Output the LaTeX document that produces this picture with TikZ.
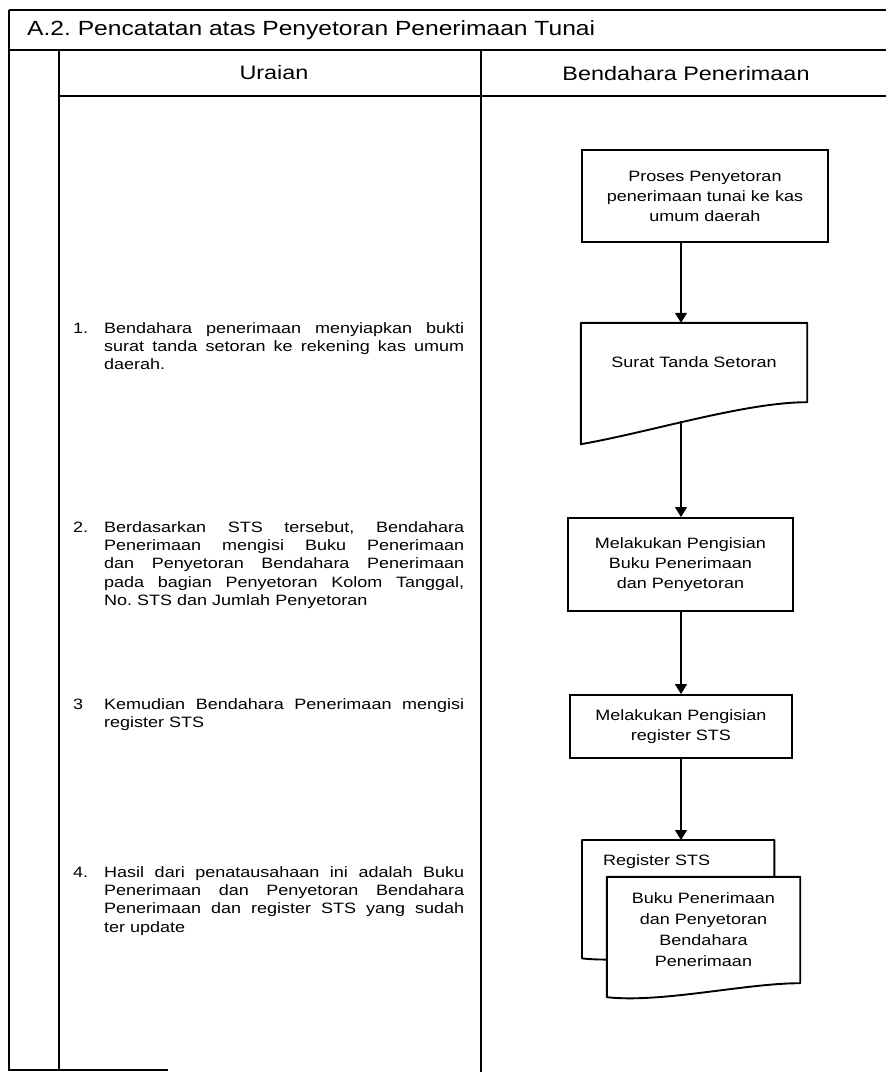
\documentclass[tikz,border=0pt]{standalone}
\usepackage{fontspec}
\setmainfont{Liberation Sans}[FakeStretch=1.2]
\usetikzlibrary{arrows.meta,calc,backgrounds}
\newcommand\txtfont{\fontsize{15}{18.2}\selectfont}
\newcommand\boxtxt{\fontsize{15}{20}\selectfont}
\frenchspacing
\tolerance=10000
\hyphenpenalty=10000
\begin{document}
\begin{tikzpicture}[x=1pt,y=-1pt,
  rule/.style={line width=1.3pt},
  procbox/.style={draw, line width=1.9pt, fill=white, inner sep=0pt, align=center, font=\boxtxt},
  docface/.style={draw, line width=1.9pt, fill=white, line join=round},
  flow/.style={line width=1.2pt, -{Triangle[width=12pt,length=10pt]}},
  para/.style={anchor=north west, inner sep=0pt, text width=360pt, align=justify, font=\txtfont},
  num/.style={anchor=north west, inner sep=0pt, font=\txtfont},
  headtxt/.style={inner sep=0pt, font=\fontsize{19.5}{23}\selectfont},
]
\useasboundingbox (0,0) rectangle (886,1072);

% table rules
\draw[rule] (9,10) -- (886,10);
\draw[rule] (9,10) -- (9,1070) -- (168,1070);
\draw[rule] (9,50) -- (886,50);
\draw[rule] (59,50) -- (59,1070);
\draw[rule] (481,50) -- (481,1072);
\draw[rule] (59,96) -- (886,96);

% headings
\node[anchor=west, inner sep=0pt, font=\fontsize{20.5}{24}\selectfont] (title) at (27,30)
  {A.2. Pencatatan atas Penyetoran Penerimaan Tunai};
\node[headtxt] (hU) at (274,73) {Uraian};
\node[headtxt] (hB) at (686,74) {Bendahara Penerimaan};

% description column
\node[num] (n1) at (73,320.6) {\strut 1.};
\node[para] (u1) at (104,320.6) {\strut Bendahara penerimaan menyiapkan bukti\linebreak
  surat tanda setoran ke rekening kas umum\linebreak daerah.};
\node[num] (n2) at (73,519.6) {\strut 2.};
\node[para] (u2) at (104,519.6) {\strut Berdasarkan STS tersebut, Bendahara\linebreak
  Penerimaan mengisi Buku Penerimaan\linebreak
  dan Penyetoran Bendahara Penerimaan\linebreak
  pada bagian Penyetoran Kolom Tanggal,\linebreak
  No. STS dan Jumlah Penyetoran};
\node[num] (n3) at (73,696.6) {\strut 3};
\node[para] (u3) at (104,696.6) {\strut Kemudian Bendahara Penerimaan mengisi\linebreak
  register STS};
\node[num] (n4) at (73,864.6) {\strut 4.};
\node[para] (u4) at (104,864.6) {\strut Hasil dari penatausahaan ini adalah Buku\linebreak
  Penerimaan dan Penyetoran Bendahara\linebreak
  Penerimaan dan register STS yang sudah\linebreak
  ter update};

% flowchart column
\coordinate (ax) at (681,0);
\node[procbox, minimum width=246pt, minimum height=92pt] (p1) at (705,196)
  {Proses Penyetoran\\penerimaan tunai ke kas\\umum daerah};
\node[inner sep=0pt, minimum width=226pt, minimum height=79pt, font=\boxtxt] (sts) at (694,362.5)
  {Surat Tanda Setoran};
\draw[docface, fill=none] (sts.north west) -- (sts.north east) -- (sts.south east)
  .. controls +(-62,0) and +(69,-12) .. ($(sts.south west)+(0,42)$) -- cycle;
\coordinate (stsb) at (681,421);
\node[procbox, minimum width=225pt, minimum height=93pt] (p3) at (680.5,564.5)
  {Melakukan Pengisian\\Buku Penerimaan\\dan Penyetoran};
\node[procbox, minimum width=222pt, minimum height=63pt] (p4) at (681,726.5)
  {Melakukan Pengisian\\register STS};

\node[inner sep=0pt, minimum width=192pt, minimum height=118pt, anchor=north west] (reg) at (582,840) {};
\node[anchor=west, inner sep=0pt, font=\boxtxt] (regtx) at (603,862) {Register STS};
\node[inner sep=0pt, minimum width=193pt, minimum height=106pt, align=center,
  font=\fontsize{15}{21}\selectfont] (buku) at (703.5,930)
  {Buku Penerimaan\\dan Penyetoran\\Bendahara\\Penerimaan};
\begin{pgfonlayer}{background}
  \draw[docface] (reg.north west) -- (reg.north east) -- ($(reg.north east)+(0,105)$)
    .. controls +(-55,0) and +(55,6) .. (reg.south west) -- cycle;
  \draw[docface] (buku.north west) -- (buku.north east) -- (buku.south east)
    .. controls +(-55,0) and +(55,6) .. ($(buku.south west)+(0,14)$) -- cycle;
\end{pgfonlayer}

\draw[flow] (p1.south -| ax) -- (sts.north -| ax);
\draw[flow] (stsb) -- (p3.north -| ax);
\draw[flow] (p3.south -| ax) -- (p4.north -| ax);
\draw[flow] (p4.south -| ax) -- (reg.north -| ax);
\end{tikzpicture}
\end{document}
